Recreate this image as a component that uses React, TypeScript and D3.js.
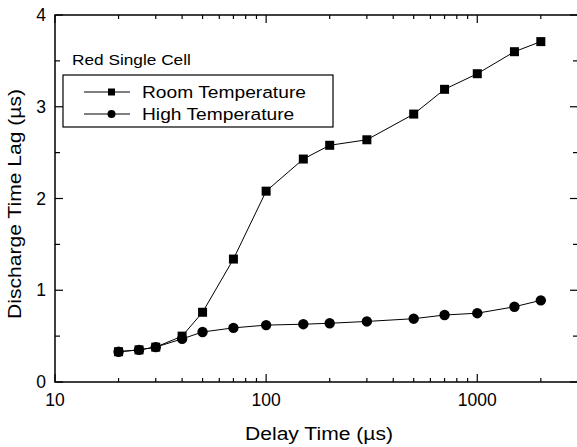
import React, { useRef, useEffect } from "react";
import * as d3 from "d3";

// delay time (µs)
const delayTimes = [20, 25, 30, 40, 50, 70, 100, 150, 200, 300, 500, 700, 1000, 1500, 2000];
// discharge time lag (µs)
const roomTemp = [0.33, 0.35, 0.38, 0.5, 0.76, 1.34, 2.08, 2.43, 2.58, 2.64, 2.92, 3.19, 3.36, 3.6, 3.71];
const highTemp = [0.33, 0.35, 0.38, 0.47, 0.545, 0.59, 0.62, 0.63, 0.64, 0.66, 0.69, 0.73, 0.75, 0.82, 0.89];

const xMajorTicks = [10, 100, 1000];
const xMinorTicks = [20, 30, 40, 50, 60, 70, 80, 90, 200, 300, 400, 500, 600, 700, 800, 900, 2000];
const yMajorTicks = [0, 1, 2, 3, 4];
const yMinorTicks = [0.5, 1.5, 2.5, 3.5];

const seriesNames = ["Room Temperature", "High Temperature"];

export default function App() {
  const svgRef = useRef<SVGSVGElement>(null);

  useEffect(() => {
    const w = 577;
    const h = 447;
    const left = 55;
    const right = 578;
    const top = 15;
    const bottom = 382;
    const font = "'Liberation Sans', Arial, Helvetica, sans-serif";

    const svg = d3.select(svgRef.current).attr("width", w).attr("height", h).style("display", "block");
    svg.selectAll("*").remove();
    svg.append("rect").attr("width", w).attr("height", h).attr("fill", "#fff");

    // scales
    const xScale = d3.scaleLog().domain([10, 3000]).range([left, right]);
    const yScale = d3.scaleLinear().domain([0, 4]).range([bottom, top]);

    const g = svg.append("g");

    // frame
    g.append("rect")
      .attr("x", left)
      .attr("y", top)
      .attr("width", right - left)
      .attr("height", bottom - top)
      .attr("fill", "none")
      .attr("stroke", "#000")
      .attr("stroke-width", 1.5);

    // x ticks (bottom and top, inward)
    const xTicks = [
      ...xMajorTicks.map((v) => ({ v, len: 8 })),
      ...xMinorTicks.map((v) => ({ v, len: 4 })),
    ];
    xTicks.forEach((t) => {
      const x = xScale(t.v);
      g.append("line").attr("x1", x).attr("x2", x).attr("y1", bottom).attr("y2", bottom - t.len).attr("stroke", "#000").attr("stroke-width", 1.2);
      g.append("line").attr("x1", x).attr("x2", x).attr("y1", top).attr("y2", top + t.len).attr("stroke", "#000").attr("stroke-width", 1.2);
    });

    // y ticks (left and right, inward)
    const yTicks = [
      ...yMajorTicks.map((v) => ({ v, len: 8 })),
      ...yMinorTicks.map((v) => ({ v, len: 5 })),
    ];
    yTicks.forEach((t) => {
      const y = yScale(t.v);
      g.append("line").attr("x1", left).attr("x2", left + t.len).attr("y1", y).attr("y2", y).attr("stroke", "#000").attr("stroke-width", 1.2);
      g.append("line").attr("x1", right).attr("x2", right - t.len).attr("y1", y).attr("y2", y).attr("stroke", "#000").attr("stroke-width", 1.2);
    });

    // tick labels
    g.selectAll(".xlab")
      .data(xMajorTicks)
      .join("text")
      .attr("x", (d) => xScale(d))
      .attr("y", 406)
      .attr("text-anchor", "middle")
      .attr("font-family", font)
      .attr("font-size", 17.5)
      .text((d) => d);

    g.selectAll(".ylab")
      .data(yMajorTicks)
      .join("text")
      .attr("x", 46)
      .attr("y", (d) => yScale(d) + 6)
      .attr("text-anchor", "end")
      .attr("font-family", font)
      .attr("font-size", 17.5)
      .text((d) => d);

    // axis titles (slightly wide lettering)
    g.append("text")
      .attr("transform", `translate(319, 440) scale(1.14, 1)`)
      .attr("text-anchor", "middle")
      .attr("font-family", font)
      .attr("font-size", 18.5)
      .text("Delay Time (\u00b5s)");

    g.append("text")
      .attr("transform", `translate(21, 204) rotate(-90) scale(1.14, 1)`)
      .attr("text-anchor", "middle")
      .attr("font-family", font)
      .attr("font-size", 18.5)
      .text("Discharge Time Lag (\u00b5s)");

    // lines
    const line = d3
      .line<number>()
      .x((d, i) => xScale(delayTimes[i]))
      .y((d) => yScale(d));

    [roomTemp, highTemp].forEach((s) => {
      g.append("path").attr("d", line(s)).attr("fill", "none").attr("stroke", "#000").attr("stroke-width", 1);
    });

    // markers
    g.selectAll(".sq")
      .data(roomTemp)
      .join("rect")
      .attr("x", (d, i) => xScale(delayTimes[i]) - 4.5)
      .attr("y", (d) => yScale(d) - 4.5)
      .attr("width", 9)
      .attr("height", 9)
      .attr("fill", "#000");

    g.selectAll(".ci")
      .data(highTemp)
      .join("circle")
      .attr("cx", (d, i) => xScale(delayTimes[i]))
      .attr("cy", (d) => yScale(d))
      .attr("r", 5.2)
      .attr("fill", "#000");

    // legend
    g.append("text")
      .attr("transform", `translate(72, 65) scale(1.15, 1)`)
      .attr("font-family", font)
      .attr("font-size", 15)
      .text("Red Single Cell");

    g.append("rect")
      .attr("x", 63)
      .attr("y", 75)
      .attr("width", 270)
      .attr("height", 52)
      .attr("fill", "#fff")
      .attr("stroke", "#000")
      .attr("stroke-width", 1.2);

    seriesNames.forEach((name, i) => {
      const ly = 92 + i * 22;
      g.append("line").attr("x1", 84).attr("x2", 130).attr("y1", ly).attr("y2", ly).attr("stroke", "#000").attr("stroke-width", 1);
      if (i === 0) {
        g.append("rect").attr("x", 108).attr("y", ly - 3.5).attr("width", 7).attr("height", 7).attr("fill", "#000");
      } else {
        g.append("circle").attr("cx", 111.5).attr("cy", ly).attr("r", 4).attr("fill", "#000");
      }
      g.append("text")
        .attr("transform", `translate(142, ${ly + 5.5}) scale(1.13, 1)`)
        .attr("font-family", font)
        .attr("font-size", 17)
        .text(name);
    });
  }, []);

  return (
    <div style={{ position: "absolute", left: 0, top: 0 }}>
      <svg ref={svgRef}></svg>
    </div>
  );
}
